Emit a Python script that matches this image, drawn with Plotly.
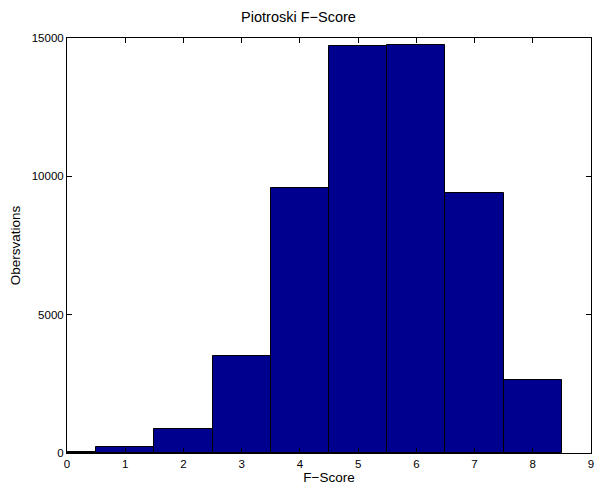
import plotly.graph_objects as go

scores = [0, 1, 2, 3, 4, 5, 6, 7, 8]
observations = [25, 205, 885, 3490, 9575, 14705, 14730, 9380, 2625]
x_ticks = [0, 1, 2, 3, 4, 5, 6, 7, 8, 9]
y_ticks = [0, 5000, 10000, 15000]

fig = go.Figure(go.Bar(
    x=scores, y=observations, width=1,
    marker=dict(color="rgb(0,0,143)", line=dict(color="black", width=1)),
))

font = "Liberation Sans, Arial, sans-serif"
fig.update_layout(
    width=597, height=485,
    margin=dict(l=67, r=3, t=37.5, b=32),
    paper_bgcolor="white", plot_bgcolor="white",
    font=dict(family=font, size=11.5, color="black"),
    title=dict(text="Piotroski F\u2212Score", x=0.5, xanchor="center",
               y=1 - 17/485, yanchor="middle", font=dict(size=14.5, family=font)),
    showlegend=False, bargap=0,
)
fig.update_xaxes(
    range=[0, 9], tickvals=x_ticks, ticktext=[str(v) for v in x_ticks],
    ticks="inside", ticklen=5, tickcolor="black", ticklabeloverflow="allow",
    showline=True, linecolor="black", linewidth=1, mirror="ticks",
    showgrid=False, zeroline=False,
    title=dict(text="F\u2212Score", font=dict(size=13.5), standoff=2),
)
fig.update_yaxes(
    range=[0, 15000], tickvals=y_ticks, ticktext=[str(v) for v in y_ticks],
    ticks="inside", ticklen=5, tickcolor="black",
    showline=True, linecolor="black", linewidth=1, mirror="ticks",
    showgrid=False, zeroline=False,
    title=dict(text="Obersvations", font=dict(size=13.5), standoff=7),
)
fig.write_html("out.html")
